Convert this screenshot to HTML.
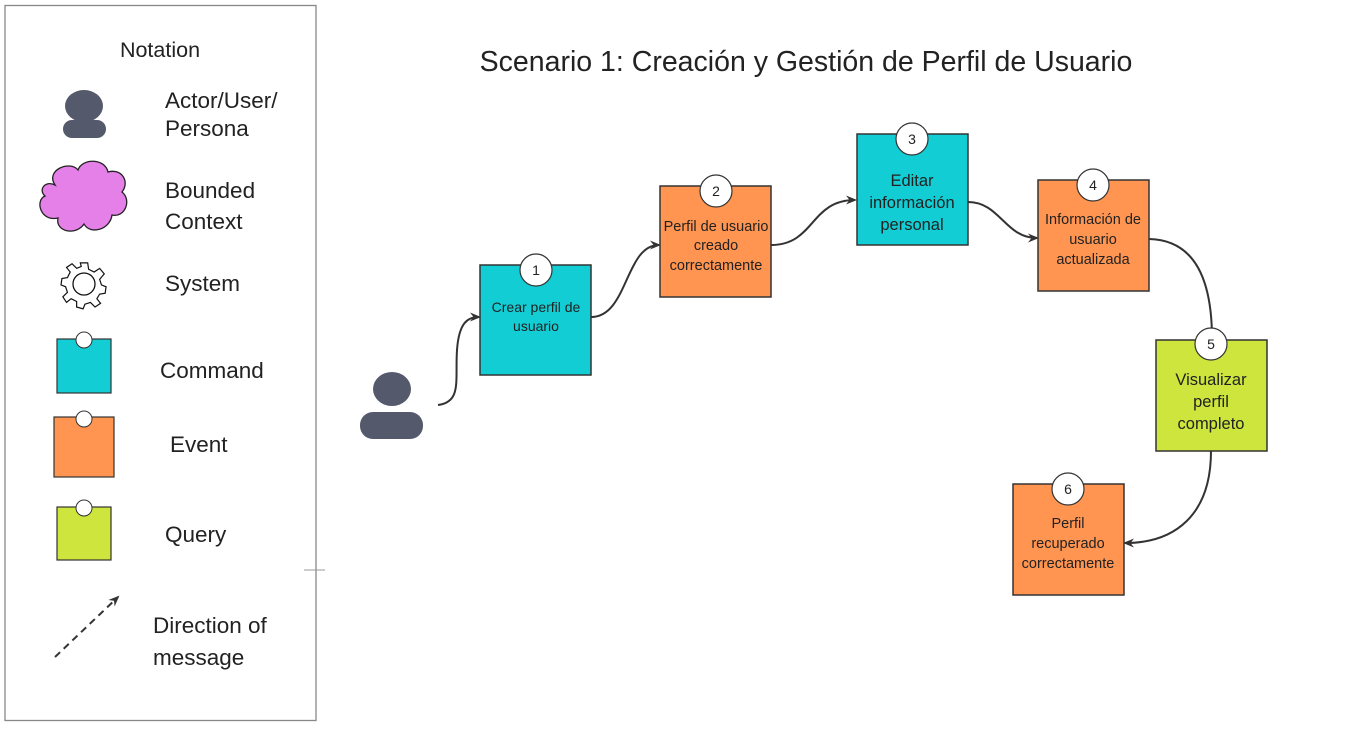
<!DOCTYPE html>
<html><head><meta charset="utf-8"><style>
html,body{margin:0;padding:0;background:#fff;}
svg text{font-family:"Liberation Sans",sans-serif;fill:#222;}
</style></head><body>
<svg width="1365" height="732" viewBox="0 0 1365 732" xmlns="http://www.w3.org/2000/svg">
<defs>
<marker id="ah" markerWidth="12" markerHeight="12" refX="9" refY="6" orient="auto" markerUnits="userSpaceOnUse">
<path d="M0,1.5 L11,6 L0,10.5 L3.5,6 Z" fill="#333"/>
</marker>
</defs>
<rect x="0" y="0" width="1365" height="732" fill="#fff"/>
<!-- legend -->
<rect x="5" y="5.5" width="311" height="715" fill="none" stroke="#888" stroke-width="1.3"/>
<line x1="304" y1="570" x2="325" y2="570" stroke="#999" stroke-width="1"/>
<text x="160" y="57" font-size="21.5" text-anchor="middle">Notation</text>
<ellipse cx="84" cy="106" rx="19" ry="16" fill="#545a6b"/>
<rect x="63" y="120" width="43" height="18" rx="9" fill="#545a6b"/>
<path d="M55,185 C45,170 70,160 78,170 C82,158 105,158 108,172 C122,168 130,182 122,192 C132,200 125,218 112,215 C110,230 90,235 84,224 C76,236 55,232 58,218 C40,222 35,200 45,196 C38,190 45,180 55,185 Z" fill="#e580e9" stroke="#222" stroke-width="1.3"/>
<g transform="translate(84,284)" fill="#fff" stroke="#111" stroke-width="1.3">
<path d="M-4,-23 L4,-23 L5,-16 L11,-13 L17,-17 L22,-11 L17,-5 L19,1 L24,3 L23,10 L17,11 L14,16 L18,21 L12,25 L7,20 L1,22 L-1,27 L-8,25 L-8,19 L-14,16 L-19,20 L-23,14 L-18,9 L-20,3 L-25,1 L-24,-6 L-18,-7 L-15,-13 L-19,-18 L-13,-22 L-8,-17 L-3,-19 Z" transform="scale(0.92)"/>
<circle cx="0" cy="0" r="11"/>
</g>
<g font-size="22.5">
<text x="165" y="108">Actor/User/</text>
<text x="165" y="136">Persona</text>
<text x="165" y="198">Bounded</text>
<text x="165" y="229">Context</text>
<text x="165" y="291">System</text>
<text x="160" y="378">Command</text>
<text x="170" y="452">Event</text>
<text x="165" y="542">Query</text>
<text x="153" y="633">Direction of</text>
<text x="153" y="665">message</text>
</g>
<rect x="57" y="339" width="54" height="54" fill="#13cdd4" stroke="#333" stroke-width="1.2"/>
<circle cx="84" cy="340" r="8" fill="#fff" stroke="#333" stroke-width="1"/>
<rect x="54" y="417" width="60" height="60" fill="#ff9551" stroke="#333" stroke-width="1.2"/>
<circle cx="84" cy="419" r="8" fill="#fff" stroke="#333" stroke-width="1"/>
<rect x="57" y="507" width="54" height="53" fill="#cde53c" stroke="#333" stroke-width="1.2"/>
<circle cx="84" cy="508" r="8" fill="#fff" stroke="#333" stroke-width="1"/>
<line x1="55" y1="657" x2="118" y2="597" stroke="#333" stroke-width="2" stroke-dasharray="7,5" marker-end="url(#ah)"/>
<!-- title -->
<text x="806" y="71" font-size="28.5" text-anchor="middle">Scenario 1: Creación y Gestión de Perfil de Usuario</text>
<!-- actor -->
<ellipse cx="392" cy="389" rx="19" ry="17" fill="#545a6b"/>
<rect x="360" y="412" width="63" height="27" rx="13" fill="#545a6b"/>
<!-- connectors -->
<g fill="none" stroke="#333" stroke-width="2">
<path d="M438,405 C462,402 455,380 457,350 C459,322 468,317 479,317" marker-end="url(#ah)"/>
<path d="M591,317 C628,317 625,245 659,245" marker-end="url(#ah)"/>
<path d="M771,245 C815,245 810,200 855,200" marker-end="url(#ah)"/>
<path d="M968,202 C1000,202 1005,238 1037,238" marker-end="url(#ah)"/>
<path d="M1149,239 C1195,240 1212,280 1212,339" marker-end="url(#ah)"/>
<path d="M1211,451 C1211,515 1175,543 1125,543" marker-end="url(#ah)"/>
</g>
<!-- boxes -->
<g stroke="#333" stroke-width="1.5">
<rect x="480" y="265" width="111" height="110" fill="#13cdd4"/>
<rect x="660" y="186" width="111" height="111" fill="#ff9551"/>
<rect x="857" y="134" width="111" height="111" fill="#13cdd4"/>
<rect x="1038" y="180" width="111" height="111" fill="#ff9551"/>
<rect x="1156" y="340" width="111" height="111" fill="#cde53c"/>
<rect x="1013" y="484" width="111" height="111" fill="#ff9551"/>
<g fill="#fff" stroke-width="1.2">
<circle cx="536" cy="270" r="16"/>
<circle cx="716" cy="191" r="16"/>
<circle cx="912" cy="139" r="16"/>
<circle cx="1093" cy="185" r="16"/>
<circle cx="1211" cy="344" r="16"/>
<circle cx="1068" cy="489" r="16"/>
</g>
</g>
<g font-size="14" text-anchor="middle">
<text x="536" y="275">1</text>
<text x="716" y="196">2</text>
<text x="912" y="144">3</text>
<text x="1093" y="190">4</text>
<text x="1211" y="349">5</text>
<text x="1068" y="494">6</text>
</g>
<g font-size="14" text-anchor="middle">
<text x="536" y="312">Crear perfil de</text>
<text x="536" y="331">usuario</text>
</g>
<g font-size="14.5" text-anchor="middle">
<text x="716" y="231">Perfil de usuario</text>
<text x="716" y="250">creado</text>
<text x="716" y="270">correctamente</text>
<text x="1093" y="224">Información de</text>
<text x="1093" y="244">usuario</text>
<text x="1093" y="264">actualizada</text>
<text x="1068" y="528">Perfil</text>
<text x="1068" y="548">recuperado</text>
<text x="1068" y="568">correctamente</text>
</g>
<g font-size="16.5" text-anchor="middle">
<text x="912" y="186">Editar</text>
<text x="912" y="208">información</text>
<text x="912" y="230">personal</text>
<text x="1211" y="385">Visualizar</text>
<text x="1211" y="407">perfil</text>
<text x="1211" y="429">completo</text>
</g>
</svg>
</body></html>
